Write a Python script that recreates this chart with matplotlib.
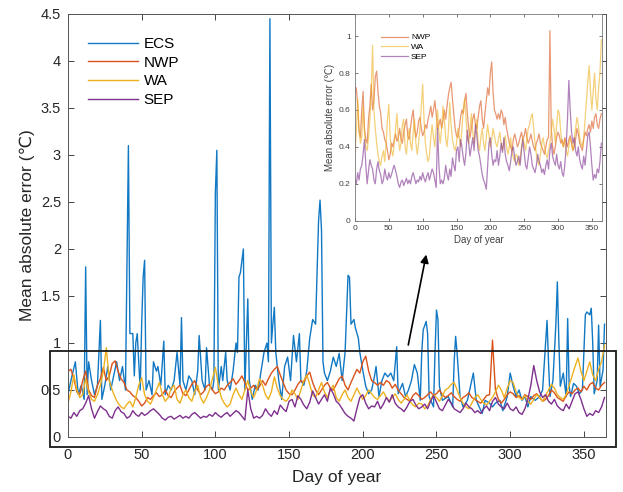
import matplotlib
matplotlib.use('Agg')
import matplotlib.pyplot as plt
from matplotlib.patches import Rectangle
from matplotlib.ticker import FuncFormatter

plt.rcParams['font.family'] = ['Liberation Sans', 'DejaVu Sans']

# ---------------- data ----------------
ecs_day = [0, 2, 5, 7, 9, 11, 12, 13, 14, 16, 18, 20, 22, 23, 25, 27, 29, 31, 33, 35, 37, 39,
           41, 42, 44, 45, 46, 47, 49, 50, 51, 52, 53, 55, 57, 58, 60, 61, 63, 65, 66, 68, 70,
           72, 74, 76, 77, 78, 80, 82, 84, 86, 88, 89, 91, 93, 94, 96, 98, 99, 100, 101, 102,
           104, 105, 107, 108, 110, 112, 114, 115, 116, 117, 119, 120, 122, 123, 125, 127, 129,
           131, 133, 135, 136, 137, 138, 139, 140, 141, 143, 145, 147, 149, 151, 153, 155, 157,
           158, 160, 162, 164, 166, 168, 170, 171, 172, 173, 174, 176, 178, 180, 182, 184, 186,
           188, 189, 190, 191, 192, 194, 195, 197, 198, 200, 202, 204, 206, 208, 209, 211, 213,
           215, 217, 219, 221, 223, 224, 227, 229, 231, 233, 235, 237, 239, 240, 241, 243, 244,
           245, 248, 249, 250, 251, 252, 254, 258, 261, 262, 263, 264, 266, 268, 271, 275, 277,
           281, 283, 286, 288, 290, 293, 295, 298, 300, 302, 304, 306, 308, 310, 312, 314, 317,
           320, 322, 324, 325, 326, 327, 329, 331, 332, 333, 334, 336, 338, 339, 340, 341, 343,
           345, 347, 349, 351, 352, 354, 355, 356, 357, 359, 360, 361, 363, 364]
ecs_val = [0.45, 0.60, 0.80, 0.45, 0.55, 0.40, 1.81, 0.45, 0.80, 0.60, 0.45, 0.55, 1.24, 0.40,
           0.55, 0.75, 0.50, 0.65, 0.80, 0.60, 0.75, 0.50,
           3.10, 1.10, 1.10, 0.65, 1.00, 1.10, 0.50, 1.20, 1.70, 1.88, 0.50, 0.60, 0.45, 0.80,
           0.70, 0.75, 0.55, 1.02, 0.45, 0.55, 0.50,
           0.60, 0.90, 0.55, 1.27, 0.60, 0.50, 0.65, 0.60, 0.45, 0.70, 1.08, 0.60, 0.50, 0.95,
           0.55, 0.50, 0.60, 2.60, 3.05, 0.50,
           0.75, 0.60, 0.90, 0.60, 0.50, 0.70, 1.00, 0.90, 1.70, 1.75, 2.00, 0.50, 1.47, 0.60,
           0.40, 0.55, 0.50,
           0.70, 0.90, 1.00, 0.80, 4.45, 1.00, 1.20, 1.38, 0.90, 0.60, 0.40, 0.75, 0.85, 0.60,
           1.08, 0.80, 1.10,
           0.60, 0.55, 0.70, 1.05, 1.25, 1.20, 2.30, 2.52, 2.20, 0.80, 0.68, 0.60, 0.70, 0.85,
           0.75, 0.89, 0.60,
           0.90, 1.30, 1.72, 1.70, 1.20, 1.25, 1.16, 1.05, 0.90, 0.71, 0.54, 0.46, 0.50, 0.65,
           0.75, 0.43, 0.60,
           0.68, 0.64, 0.68, 0.60, 0.96, 0.46, 0.57, 0.43, 0.50, 0.60, 0.77, 0.68, 0.39, 0.90,
           1.14, 1.23, 1.10,
           0.43, 0.32, 0.90, 1.35, 1.25, 0.54, 0.39, 0.43, 0.32, 0.80, 1.07, 0.89, 0.43, 0.32,
           0.39, 0.68, 0.39,
           0.25, 0.39, 0.36, 0.32, 0.36, 0.39, 0.28, 0.43, 0.68, 0.54, 0.43, 0.50, 0.39, 0.43,
           0.32, 0.43, 0.39,
           0.43, 0.50, 1.00, 1.24, 0.80, 0.43, 0.60, 1.20, 1.65, 1.03, 0.54, 0.68, 0.43, 1.26,
           0.54, 0.43, 0.57,
           0.54, 0.46, 0.50, 1.30, 1.33, 1.30, 1.37, 1.00, 0.46, 0.60, 1.19, 0.54, 0.71, 1.20]

days2 = list(range(0, 365, 2))

nwp_val = [0.70, 0.72, 0.62, 0.48, 0.45, 0.60, 0.70, 0.50, 0.44, 0.42,
           0.55, 0.62, 0.74, 0.60, 0.65, 0.78, 0.81, 0.70, 0.62, 0.58,
           0.50, 0.48, 0.44, 0.42, 0.38, 0.33, 0.36, 0.42, 0.40, 0.44,
           0.47, 0.43, 0.45, 0.50, 0.44, 0.42, 0.48, 0.52, 0.55, 0.46,
           0.44, 0.50, 0.56, 0.60, 0.50, 0.45, 0.48, 0.54, 0.56, 0.50,
           0.46, 0.48, 0.52, 0.50, 0.55, 0.58, 0.62, 0.56, 0.60, 0.65,
           0.58, 0.50, 0.52, 0.55, 0.50, 0.54, 0.60, 0.55, 0.62, 0.68,
           0.72, 0.75, 0.66, 0.58, 0.50, 0.46, 0.45, 0.50, 0.56, 0.60,
           0.58, 0.65, 0.69, 0.58, 0.50, 0.45, 0.50, 0.55, 0.58, 0.52,
           0.50, 0.56, 0.62, 0.65, 0.55, 0.50, 0.58, 0.65, 0.72, 0.68,
           0.80, 0.86, 0.70, 0.60, 0.58, 0.55, 0.58, 0.55, 0.60, 0.58,
           0.52, 0.56, 0.50, 0.46, 0.42, 0.40, 0.38, 0.44, 0.47, 0.44,
           0.40, 0.42, 0.45, 0.48, 0.44, 0.46, 0.50, 0.45, 0.42, 0.44,
           0.47, 0.43, 0.40, 0.38, 0.42, 0.44, 0.47, 0.42, 0.40, 0.38,
           0.36, 0.40, 0.44, 0.45, 1.03, 0.50, 0.40, 0.36, 0.40, 0.45,
           0.48, 0.46, 0.42, 0.44, 0.40, 0.45, 0.43, 0.40, 0.44, 0.46,
           0.42, 0.38, 0.40, 0.44, 0.50, 0.47, 0.42, 0.40, 0.38, 0.44,
           0.48, 0.46, 0.50, 0.52, 0.48, 0.54, 0.50, 0.56, 0.58, 0.52,
           0.50, 0.55, 0.58]

wa_val = [0.36, 0.48, 0.66, 0.50, 0.42, 0.45, 0.62, 0.48, 0.40, 0.38,
          0.45, 0.55, 0.70, 0.95, 0.60, 0.50, 0.42, 0.36, 0.32, 0.30,
          0.35, 0.38, 0.32, 0.42, 0.55, 0.63, 0.45, 0.38, 0.35, 0.42,
          0.50, 0.58, 0.45, 0.38, 0.42, 0.52, 0.55, 0.40, 0.36, 0.45,
          0.50, 0.42, 0.38, 0.48, 0.55, 0.42, 0.36, 0.42, 0.50, 0.62,
          0.74, 0.55, 0.42, 0.36, 0.32, 0.35, 0.45, 0.52, 0.45, 0.40,
          0.50, 0.60, 0.48, 0.42, 0.50, 0.62, 0.55, 0.45, 0.40, 0.48,
          0.64, 0.52, 0.44, 0.40, 0.38, 0.42, 0.50, 0.46, 0.40, 0.50,
          0.60, 0.66, 0.56, 0.45, 0.42, 0.50, 0.58, 0.48, 0.42, 0.50,
          0.55, 0.42, 0.38, 0.45, 0.50, 0.42, 0.38, 0.45, 0.52, 0.46,
          0.40, 0.44, 0.50, 0.46, 0.42, 0.40, 0.44, 0.48, 0.42, 0.38,
          0.42, 0.46, 0.40, 0.36, 0.40, 0.45, 0.38, 0.34, 0.32, 0.36,
          0.35, 0.30, 0.33, 0.40, 0.45, 0.42, 0.38, 0.44, 0.50, 0.52,
          0.56, 0.58, 0.50, 0.42, 0.36, 0.32, 0.30, 0.36, 0.42, 0.45,
          0.40, 0.36, 0.34, 0.38, 0.42, 0.48, 0.55, 0.50, 0.42, 0.52,
          0.60, 0.58, 0.48, 0.42, 0.40, 0.44, 0.38, 0.35, 0.40, 0.45,
          0.42, 0.38, 0.44, 0.50, 0.56, 0.52, 0.45, 0.42, 0.40, 0.45,
          0.55, 0.65, 0.75, 0.84, 0.70, 0.60, 0.70, 0.80, 0.66, 0.60,
          0.72, 0.80, 0.98]

sep_val = [0.22, 0.20, 0.26, 0.22, 0.28, 0.30, 0.36, 0.44, 0.30, 0.20,
           0.27, 0.33, 0.30, 0.28, 0.22, 0.20, 0.28, 0.32, 0.27, 0.25,
           0.20, 0.22, 0.28, 0.24, 0.22, 0.26, 0.23, 0.25, 0.28, 0.30,
           0.27, 0.24, 0.20, 0.18, 0.21, 0.22, 0.19, 0.21, 0.23, 0.20,
           0.22, 0.20, 0.24, 0.26, 0.23, 0.20, 0.22, 0.21, 0.24, 0.22,
           0.26, 0.23, 0.21, 0.24, 0.26, 0.22, 0.25, 0.28, 0.26, 0.22,
           0.18, 0.50, 0.30, 0.20, 0.22, 0.20, 0.23, 0.30, 0.25, 0.22,
           0.28, 0.24, 0.34, 0.30, 0.27, 0.38, 0.40, 0.32, 0.44, 0.40,
           0.34, 0.30, 0.37, 0.49, 0.42, 0.35, 0.40, 0.45, 0.38, 0.52,
           0.46, 0.38, 0.35, 0.30, 0.25, 0.22, 0.20, 0.17, 0.30, 0.42,
           0.45, 0.36, 0.30, 0.33, 0.32, 0.38, 0.30, 0.35, 0.42, 0.37,
           0.45, 0.36, 0.32, 0.30, 0.27, 0.32, 0.38, 0.40, 0.34, 0.30,
           0.32, 0.35, 0.30, 0.38, 0.44, 0.37, 0.30, 0.28, 0.34, 0.40,
           0.36, 0.30, 0.28, 0.26, 0.30, 0.36, 0.32, 0.30, 0.26, 0.28,
           0.25, 0.30, 0.33, 0.28, 0.38, 0.42, 0.35, 0.32, 0.30, 0.36,
           0.30, 0.28, 0.32, 0.26, 0.24, 0.30, 0.40, 0.55, 0.76, 0.60,
           0.48, 0.42, 0.45, 0.38, 0.35, 0.40, 0.33, 0.30, 0.28, 0.35,
           0.30, 0.38, 0.46, 0.48, 0.40, 0.30, 0.22, 0.25, 0.23, 0.28,
           0.26, 0.32, 0.42]

labels = ['ECS', 'NWP', 'WA', 'SEP']
colors = ['#1178C4', '#D95319', '#EDB120', '#7E2F8E']
x_ticks = [0, 50, 100, 150, 200, 250, 300, 350]
y_ticks_main = [0, 0.5, 1, 1.5, 2, 2.5, 3, 3.5, 4, 4.5]
y_ticks_inset = [0, 0.2, 0.4, 0.6, 0.8, 1]

# ---------------- figure ----------------
fig = plt.figure(figsize=(6.23, 4.92), dpi=100)
ax = fig.add_axes([0.1091, 0.1118, 0.8636, 0.8598])

ax.plot(ecs_day, ecs_val, color=colors[0], lw=1.0, label=labels[0])
ax.plot(days2, nwp_val, color=colors[1], lw=1.0, label=labels[1])
ax.plot(days2, wa_val, color=colors[2], lw=1.0, label=labels[2])
ax.plot(days2, sep_val, color=colors[3], lw=1.0, label=labels[3])

ax.set_xlim(0, 365)
ax.set_ylim(0, 4.5)
ax.set_xticks(x_ticks)
ax.set_yticks(y_ticks_main)
fmt = FuncFormatter(lambda v, p: '%g' % v)
ax.yaxis.set_major_formatter(fmt)
ax.tick_params(direction='in', top=True, right=True, length=4, width=0.6,
               labelsize=10.5, colors='#262626', pad=5)
ax.tick_params(axis='x', pad=8)
for s in ax.spines.values():
    s.set_color('#555555')
    s.set_linewidth(0.7)
ax.set_xlabel('Day of year', fontsize=12.5, color='#262626', labelpad=6)
ax.set_ylabel('Mean absolute error (℃)', fontsize=12.5, color='#262626', labelpad=4)

leg = ax.legend(loc='upper left', bbox_to_anchor=(0.037, 0.945), frameon=False,
                fontsize=11, handlelength=3.3, handletextpad=0.35, labelspacing=0.3,
                borderpad=0, borderaxespad=0)

# highlight box and arrow
ax.add_patch(Rectangle((-12.2, -0.106), 384.2, 1.021, fill=False, edgecolor='#1a1a1a',
                       lw=1.3, clip_on=False, zorder=5))
ax.annotate('', xy=(243.4, 1.97), xytext=(230.5, 0.95),
            arrowprops=dict(arrowstyle='-|>', color='black', lw=1.2, mutation_scale=12))

# ---------------- inset ----------------
ins = fig.add_axes([0.5698, 0.5515, 0.3965, 0.4201])
ins.set_facecolor('white')
ins.plot(days2, nwp_val, color=colors[1], lw=0.9, alpha=0.6, label=labels[1])
ins.plot(days2, wa_val, color=colors[2], lw=0.9, alpha=0.6, label=labels[2])
ins.plot(days2, sep_val, color=colors[3], lw=0.9, alpha=0.6, label=labels[3])
ins.set_xlim(0, 365)
ins.set_ylim(0, 1.12)
ins.set_xticks(x_ticks)
ins.set_yticks(y_ticks_inset)
ins.yaxis.set_major_formatter(fmt)
ins.tick_params(direction='in', top=True, right=True, length=2.5, width=0.5,
                labelsize=6, colors='#404040', pad=3)
for s in ins.spines.values():
    s.set_color('#777777')
    s.set_linewidth(0.6)
ins.set_xlabel('Day of year', fontsize=7, color='#404040', labelpad=2)
ins.set_ylabel('Mean absolute error (℃)', fontsize=7, color='#404040', labelpad=3)
ins.legend(loc='upper left', bbox_to_anchor=(0.105, 0.905), frameon=False,
           fontsize=6, handlelength=3.2, handletextpad=0.4, labelspacing=0.25,
           borderpad=0, borderaxespad=0)

fig.savefig('out.png', dpi=100)
